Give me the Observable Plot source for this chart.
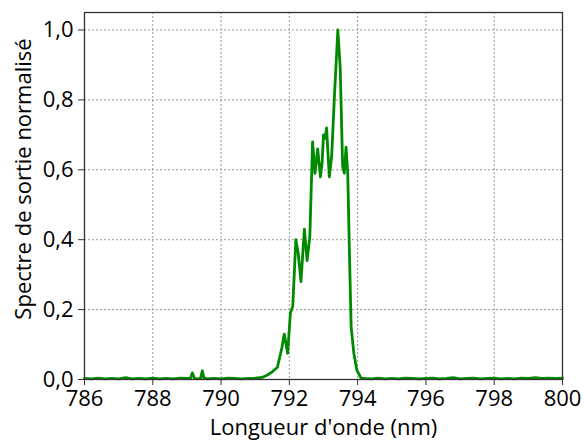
<!DOCTYPE html>
<html><head><meta charset="utf-8">
<script src="https://cdn.jsdelivr.net/npm/d3@7"></script>
<script src="https://cdn.jsdelivr.net/npm/@observablehq/plot@0.6"></script>
<style>body{margin:0;background:#fff}</style>
</head><body><div id="chart"></div>
<script>
const wavelengths = [
  786.0,786.2,786.4,786.6,786.8,787.0,787.2,787.4,787.6,787.8,788.0,788.2,788.4,788.6,788.8,
  789.0,789.1,789.16,789.22,789.3,789.4,789.45,789.5,789.6,789.8,790.0,790.2,790.4,790.6,790.8,
  791.0,791.2,791.36,791.5,791.65,791.78,791.85,791.95,792.03,792.1,792.19,792.26,792.34,792.44,
  792.52,792.6,792.68,792.75,792.83,792.91,792.96,793.0,793.05,793.09,793.17,793.24,793.32,793.42,
  793.49,793.56,793.61,793.66,793.71,793.76,793.81,793.89,793.98,794.1,794.2,794.4,794.6,794.8,
  795.0,795.2,795.4,795.6,795.8,796.0,796.2,796.4,796.6,796.8,797.0,797.2,797.4,797.6,797.8,
  798.0,798.2,798.4,798.6,798.8,799.0,799.2,799.4,799.6,799.8,800.0
];
const intensities = [
  0.003,0.002,0.004,0.002,0.003,0.002,0.005,0.002,0.003,0.002,0.004,0.002,0.003,0.002,0.004,
  0.003,0.003,0.019,0.003,0.002,0.003,0.025,0.004,0.002,0.003,0.002,0.004,0.003,0.002,0.003,
  0.004,0.006,0.013,0.022,0.035,0.09,0.13,0.075,0.19,0.21,0.40,0.36,0.28,0.43,
  0.34,0.41,0.68,0.59,0.66,0.58,0.62,0.70,0.69,0.72,0.58,0.64,0.81,1.00,
  0.89,0.61,0.59,0.665,0.59,0.36,0.15,0.074,0.026,0.004,0.003,0.002,0.004,0.002,
  0.003,0.002,0.004,0.003,0.002,0.003,0.004,0.002,0.003,0.005,0.002,0.003,0.004,0.002,0.003,
  0.004,0.002,0.003,0.002,0.004,0.003,0.005,0.003,0.004,0.003,0.004
];
const xTicks = [786,788,790,792,794,796,798,800];
const yTicks = [0,0.2,0.4,0.6,0.8,1.0];
const xLabel = "Longueur d'onde (nm)";
const yLabel = "Spectre de sortie normalisé";

const data = wavelengths.map((w, i) => ({w, v: intensities[i]}));
const fmt = d => d.toFixed(1).replace(".", ",");

const chart = Plot.plot({
  width: 584, height: 441,
  marginLeft: 84, marginRight: 22, marginTop: 12, marginBottom: 62,
  style: {fontFamily: "'Open Sans', sans-serif", fontSize: "22px", color: "#000", background: "#fff"},
  x: {domain: [786, 800]},
  y: {domain: [0, 1.05]},
  marks: [
    Plot.gridX(xTicks, {stroke: "#999", strokeOpacity: 1, strokeDasharray: "2,2"}),
    Plot.gridY(yTicks, {stroke: "#999", strokeOpacity: 1, strokeDasharray: "2,2"}),
    Plot.line(data, {x: "w", y: "v", stroke: "#008a00", strokeWidth: 2.8}),
    Plot.frame({stroke: "#333", strokeWidth: 1.3}),
    Plot.axisX(xTicks, {tickSize: 6, tickPadding: 5, stroke: "#333", fill: "#000", label: null}),
    Plot.axisY(yTicks, {tickSize: 6, tickPadding: 5, stroke: "#333", fill: "#000", tickFormat: fmt, label: null}),
    Plot.text([xLabel], {text: d => d, frameAnchor: "bottom", lineAnchor: "middle", textAnchor: "middle", dy: 48, fontSize: 22, fill: "#000"}),
    Plot.text([yLabel], {text: d => d, frameAnchor: "left", lineAnchor: "middle", textAnchor: "middle", dx: -61, dy: -17, rotate: -90, fontSize: 22, fill: "#000"})
  ]
});
document.getElementById("chart").appendChild(chart);
</script>
</body></html>
